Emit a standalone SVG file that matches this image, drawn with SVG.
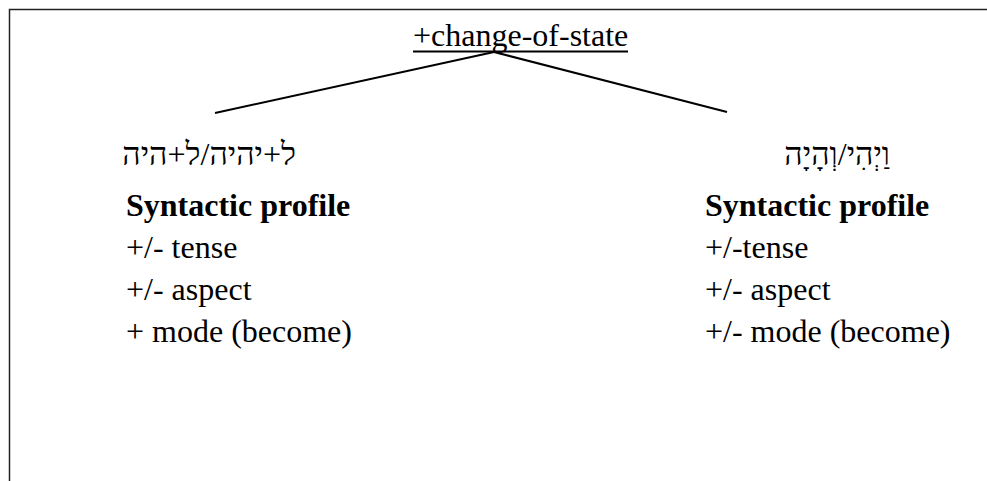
<svg xmlns="http://www.w3.org/2000/svg" width="987" height="481" viewBox="0 0 987 481">
  <style>
    .t { font-family: "Liberation Serif", "Times New Roman", serif; font-size: 32px; fill: #000; }
    .b { font-weight: bold; }
    .he { font-family: "Liberation Serif", "DejaVu Sans", serif; font-size: 32px; fill: #000; }
    .edge { stroke: #000; stroke-width: 2; fill: none; }
    .frame { stroke: #222; stroke-width: 1.5; fill: none; }
  </style>
  <rect width="987" height="481" fill="#fff"/>
  <g id="frame">
    <path class="frame" d="M9.5 481 V9.5 H987"/>
  </g>
  <g id="connectors">
    <line class="edge" x1="494" y1="52" x2="215" y2="113"/>
    <line class="edge" x1="494" y1="52" x2="727" y2="112"/>
  </g>
  <g id="root">
    <text class="t" x="413" y="46">+change-of-state</text>
    <line x1="413" y1="51.5" x2="628" y2="51.5" stroke="#000" stroke-width="2"/>
  </g>
  <g id="left">
    <text class="he" x="296" y="165" direction="rtl" text-anchor="start">ל+יהיה/ל+היה</text>
    <text class="t b" x="126" y="216">Syntactic profile</text>
    <text class="t" x="126" y="258">+/- tense</text>
    <text class="t" x="126" y="300">+/- aspect</text>
    <text class="t" x="126" y="342">+ mode (become)</text>
  </g>
  <g id="right">
    <text class="he" x="890" y="165" direction="rtl" text-anchor="start">וַיְהִי/וְהָיָה</text>
    <text class="t b" x="705" y="216">Syntactic profile</text>
    <text class="t" x="705" y="258">+/-tense</text>
    <text class="t" x="705" y="300">+/- aspect</text>
    <text class="t" x="705" y="342">+/- mode (become)</text>
  </g>
</svg>
